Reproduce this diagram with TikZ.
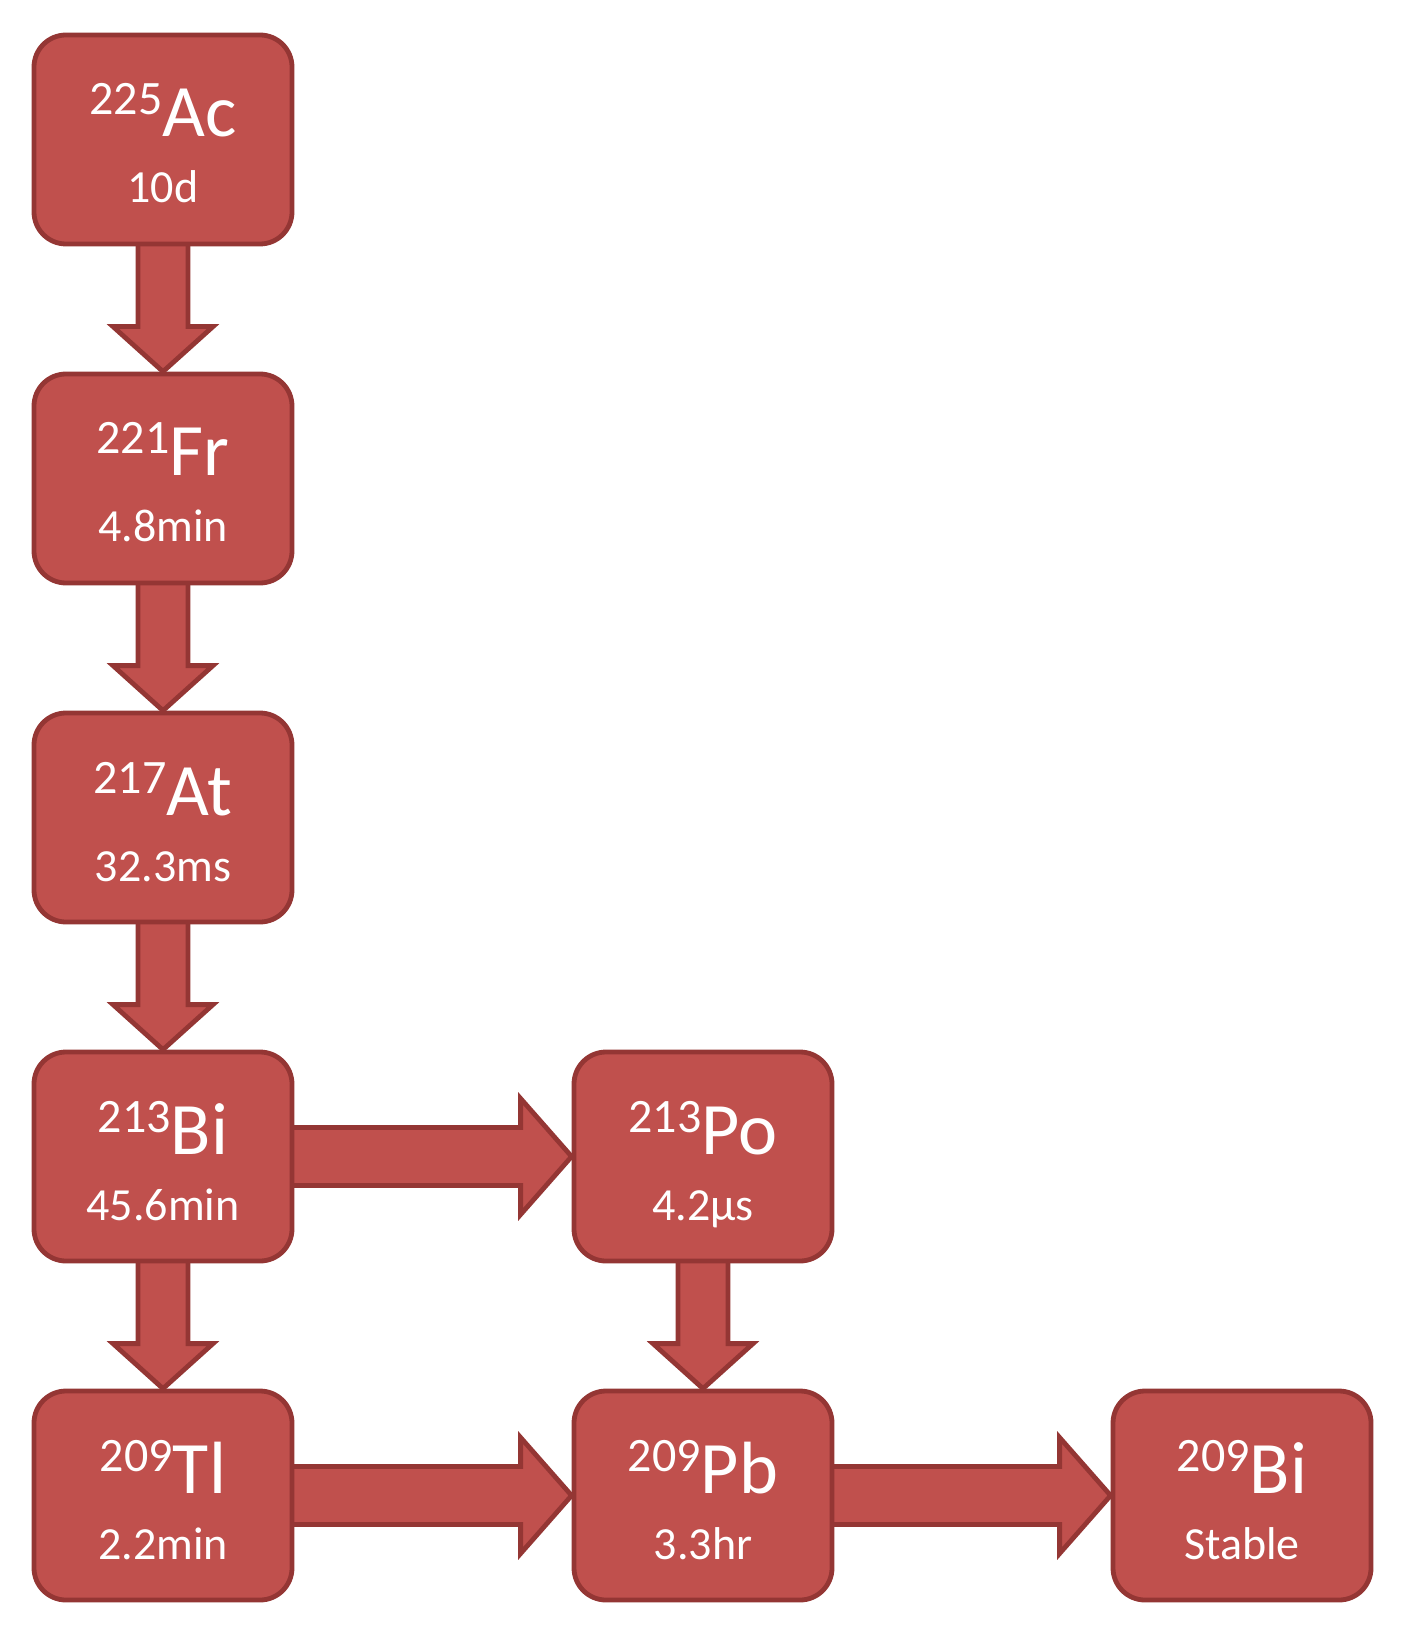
\documentclass[tikz,border=0pt]{standalone}
\usepackage{fontspec}
\setmainfont{Carlito}
\usetikzlibrary{calc}
\definecolor{boxfill}{HTML}{C0504D}
\definecolor{boxline}{HTML}{943634}
\pgfdeclarelayer{bg}\pgfsetlayers{bg,main}
\tikzset{
 nuclide/.style={draw=boxline, fill=boxfill, line width=2.4pt, rounded corners=16pt,
   minimum width=129pt, minimum height=104.5pt, inner sep=0pt},
 elem/.style={text=white, anchor=base, inner sep=0pt, font=\fontsize{37}{40}\selectfont},
 life/.style={text=white, anchor=base, inner sep=0pt, font=\fontsize{23}{27}\selectfont},
 fatarrow/.style={draw=boxline, fill=boxfill, line width=2.4pt, line join=miter},
}
\newcommand\iso[2]{{\fontsize{24}{28}\selectfont\raisebox{11pt}{#1}}#2}
\newcommand\vdecay[2]{\draw[fatarrow] ($(#1.south)+(-25,-6)$) -- ($(#2.north)+(-25,-45)$) -- ($(#2.north)+(-50,-45)$) -- (#2.north) -- ($(#2.north)+(50,-45)$) -- ($(#2.north)+(25,-45)$) -- ($(#1.south)+(25,-6)$) -- cycle;}
\newcommand\hdecay[2]{\draw[fatarrow] ($(#1.east)+(-6,-29)$) -- ($(#2.west)+(-51,-29)$) -- ($(#2.west)+(-51,-58)$) -- (#2.west) -- ($(#2.west)+(-51,58)$) -- ($(#2.west)+(-51,29)$) -- ($(#1.east)+(-6,29)$) -- cycle;}
\begin{document}
\begin{tikzpicture}[x=0.5pt,y=-0.5pt]
\useasboundingbox (0,0) rectangle (1404,1625);
\node[nuclide] (ac) at (163,139.5) {};
\node[nuclide] (fr) at (163,478.5) {};
\node[nuclide] (at) at (163,817.5) {};
\node[nuclide] (bi213) at (163,1156.5) {};
\node[nuclide] (tl) at (163,1495.5) {};
\node[nuclide] (po) at (703,1156.5) {};
\node[nuclide] (pb) at (703,1495.5) {};
\node[nuclide] (bi209) at (1242,1495.5) {};
\foreach \n/\m/\e/\t in {ac/225/Ac/10d, fr/221/Fr/4.8min, at/217/At/32.3ms, bi213/213/Bi/45.6min, tl/209/Tl/2.2min, po/213/Po/4.2µs, pb/209/Pb/3.3hr, bi209/209/Bi/Stable}{
  \node[elem] (\n-e) at ($(\n.center)+(0,-2.5)$) {\iso{\m}{\e}};
  \node[life] (\n-t) at ($(\n.center)+(0,63.5)$) {\t};
}
\begin{pgfonlayer}{bg}
\vdecay{ac}{fr}
\vdecay{fr}{at}
\vdecay{at}{bi213}
\vdecay{bi213}{tl}
\vdecay{po}{pb}
\hdecay{bi213}{po}
\hdecay{tl}{pb}
\hdecay{pb}{bi209}
\end{pgfonlayer}
\end{tikzpicture}
\end{document}
